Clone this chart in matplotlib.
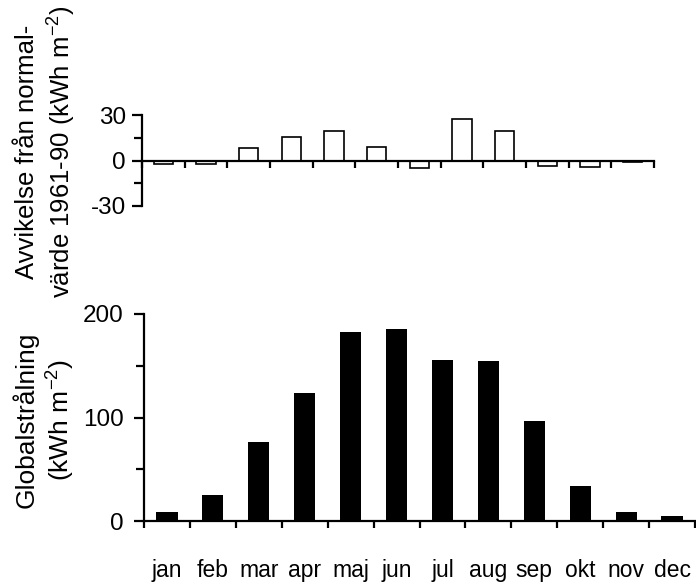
import numpy as np
import matplotlib
matplotlib.use("Agg")
import matplotlib.pyplot as plt

plt.rcParams["font.family"] = ["Liberation Sans", "DejaVu Sans"]
plt.rcParams["axes.unicode_minus"] = False

# Data
months = ["jan", "feb", "mar", "apr", "maj", "jun", "jul", "aug", "sep", "okt", "nov", "dec"]
deviation = [-2, -2, 8.3, 15.8, 19.3, 8.8, -5, 27.2, 19.5, -3.3, -4.4, -1.3]
radiation = [9, 25.4, 76.2, 123.4, 182.8, 186, 156, 154.6, 96.5, 33.6, 9.4, 5.5]

x = np.arange(len(months)) + 0.5

fig = plt.figure(figsize=(6.96, 5.83), dpi=100)

# -------------------------------
# Top panel: deviation from normal
# -------------------------------
ax1 = fig.add_axes([142 / 696, 1 - 206 / 583, 512 / 696, 91 / 583])
ax1.bar(x, deviation, width=0.45, facecolor="white", edgecolor="black", linewidth=1.2)
ax1.set_xlim(0, 12)
ax1.set_ylim(-30, 30)
ax1.spines["top"].set_visible(False)
ax1.spines["right"].set_visible(False)
ax1.spines["bottom"].set_position(("data", 0))
for s in ["left", "bottom"]:
    ax1.spines[s].set_linewidth(1.6)
ax1.set_xticks(np.arange(13))
ax1.set_xticklabels([])
ax1.tick_params(axis="x", direction="out", length=5, width=1.6)
ax1.set_yticks([-30, 0, 30])
ax1.set_yticks([-15, 15], minor=True)
ax1.tick_params(axis="y", which="major", length=7.5, width=1.6, pad=4, labelsize=17.5)
ax1.tick_params(axis="y", which="minor", length=5.5, width=1.6)

fig.text(46 / 696, 1 - 152 / 583,
         "Avvikelse från normal-\nvärde 1961-90 (kWh m$^{\\mathregular{-2}}$)",
         rotation=90, ha="center", va="center", multialignment="center", fontsize=18.5)

# -------------------------------
# Bottom panel: global radiation
# -------------------------------
ax2 = fig.add_axes([144 / 696, 1 - 521.3 / 583, 551 / 696, 207.3 / 583])
ax2.bar(x, radiation, width=0.46, color="black")
ax2.set_xlim(0, 12)
ax2.set_ylim(0, 200)
ax2.spines["top"].set_visible(False)
ax2.spines["right"].set_visible(False)
for s in ["left", "bottom"]:
    ax2.spines[s].set_linewidth(1.6)
ax2.set_xticks(np.arange(13))
ax2.set_xticklabels([])
ax2.tick_params(axis="x", which="major", direction="out", length=5, width=1.6)
ax2.set_xticks(x, minor=True)
ax2.set_xticklabels(months, minor=True)
ax2.tick_params(axis="x", which="minor", length=0, pad=27, labelsize=16.5)
ax2.set_yticks([0, 100, 200])
ax2.set_yticks([50, 150], minor=True)
ax2.tick_params(axis="y", which="major", length=7.5, width=1.6, pad=7, labelsize=17.5)
ax2.tick_params(axis="y", which="minor", length=5.5, width=1.6)

fig.text(44 / 696, 1 - 420 / 583,
         "Globalstrålning\n(kWh m$^{\\mathregular{-2}}$)",
         rotation=90, ha="center", va="center", multialignment="center", fontsize=19)

plt.savefig("out.png", dpi=100)
